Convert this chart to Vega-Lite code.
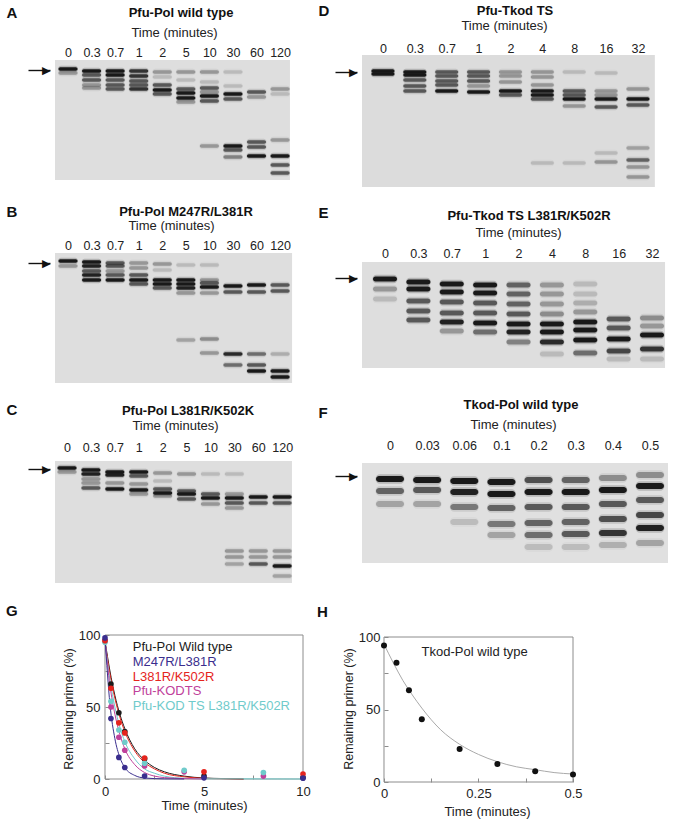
{
  "$schema": "https://vega.github.io/schema/vega-lite/v6.json",
  "padding": {"left": 6, "top": 3, "right": 0, "bottom": 0},
  "background": "white",
  "config": {
    "font": "Liberation Sans",
    "view": {"stroke": null},
    "axis": {"labelColor": "#222", "titleColor": "#222", "grid": false},
    "title": {"fontSize": 13, "fontWeight": "bold", "color": "#111"}
  },
  "datasets": {
    "gels": [
      {"g": "A", "x0": -0.552, "x1": 9.42, "y0": 0, "y1": 120},
      {"g": "B", "x0": -0.552, "x1": 9.51, "y0": 0, "y1": 130},
      {"g": "C", "x0": -0.502, "x1": 9.41, "y0": 0, "y1": 122},
      {"g": "D", "x0": -0.657, "x1": 8.53, "y0": 0, "y1": 132},
      {"g": "E", "x0": -0.689, "x1": 8.39, "y0": 0, "y1": 106},
      {"g": "F", "x0": -0.754, "x1": 7.485, "y0": 0, "y1": 100}
    ],
    "frames": [
      {"f": "G", "x0": 0, "x1": 10, "y0": 0, "y1": 100},
      {"f": "H", "x0": 0, "x1": 0.5, "y0": 0, "y1": 100}
    ],
    "bands": [
      {"g": "A", "l": 0, "p": 9, "k": 0.95}, {"g": "A", "l": 0, "p": 13, "k": 0.3},
      {"g": "A", "l": 1, "p": 11, "k": 0.95}, {"g": "A", "l": 1, "p": 15, "k": 0.6}, {"g": "A", "l": 1, "p": 20, "k": 0.6}, {"g": "A", "l": 1, "p": 25, "k": 0.3}, {"g": "A", "l": 1, "p": 28, "k": 0.3},
      {"g": "A", "l": 2, "p": 11, "k": 0.95}, {"g": "A", "l": 2, "p": 15, "k": 0.95}, {"g": "A", "l": 2, "p": 20, "k": 0.6}, {"g": "A", "l": 2, "p": 25, "k": 0.6}, {"g": "A", "l": 2, "p": 29, "k": 0.6},
      {"g": "A", "l": 3, "p": 11, "k": 0.8}, {"g": "A", "l": 3, "p": 16, "k": 0.8}, {"g": "A", "l": 3, "p": 21, "k": 0.6}, {"g": "A", "l": 3, "p": 25, "k": 0.6}, {"g": "A", "l": 3, "p": 29, "k": 0.8},
      {"g": "A", "l": 4, "p": 12, "k": 0.3}, {"g": "A", "l": 4, "p": 17, "k": 0.15}, {"g": "A", "l": 4, "p": 25, "k": 0.6}, {"g": "A", "l": 4, "p": 30, "k": 0.95}, {"g": "A", "l": 4, "p": 34, "k": 0.6},
      {"g": "A", "l": 5, "p": 12, "k": 0.3}, {"g": "A", "l": 5, "p": 20, "k": 0.15}, {"g": "A", "l": 5, "p": 29, "k": 0.6}, {"g": "A", "l": 5, "p": 33, "k": 0.95}, {"g": "A", "l": 5, "p": 38, "k": 0.95}, {"g": "A", "l": 5, "p": 42, "k": 0.3},
      {"g": "A", "l": 6, "p": 12, "k": 0.3}, {"g": "A", "l": 6, "p": 22, "k": 0.15}, {"g": "A", "l": 6, "p": 28, "k": 0.6}, {"g": "A", "l": 6, "p": 32, "k": 0.3}, {"g": "A", "l": 6, "p": 36, "k": 0.95}, {"g": "A", "l": 6, "p": 41, "k": 0.6}, {"g": "A", "l": 6, "p": 86, "k": 0.3},
      {"g": "A", "l": 7, "p": 12, "k": 0.15}, {"g": "A", "l": 7, "p": 26, "k": 0.15}, {"g": "A", "l": 7, "p": 34, "k": 0.95}, {"g": "A", "l": 7, "p": 39, "k": 0.6}, {"g": "A", "l": 7, "p": 86, "k": 0.95}, {"g": "A", "l": 7, "p": 90, "k": 0.6}, {"g": "A", "l": 7, "p": 97, "k": 0.4},
      {"g": "A", "l": 8, "p": 32, "k": 0.6}, {"g": "A", "l": 8, "p": 37, "k": 0.3}, {"g": "A", "l": 8, "p": 82, "k": 0.6}, {"g": "A", "l": 8, "p": 87, "k": 0.6}, {"g": "A", "l": 8, "p": 96, "k": 0.95},
      {"g": "A", "l": 9, "p": 29, "k": 0.3}, {"g": "A", "l": 9, "p": 34, "k": 0.15}, {"g": "A", "l": 9, "p": 80, "k": 0.3}, {"g": "A", "l": 9, "p": 96, "k": 0.95}, {"g": "A", "l": 9, "p": 105, "k": 0.6}, {"g": "A", "l": 9, "p": 113, "k": 0.6},

      {"g": "B", "l": 0, "p": 8, "k": 0.95}, {"g": "B", "l": 0, "p": 13, "k": 0.3},
      {"g": "B", "l": 1, "p": 9, "k": 0.95}, {"g": "B", "l": 1, "p": 13, "k": 0.9}, {"g": "B", "l": 1, "p": 18, "k": 0.6}, {"g": "B", "l": 1, "p": 22, "k": 0.9}, {"g": "B", "l": 1, "p": 27, "k": 0.95},
      {"g": "B", "l": 2, "p": 10, "k": 0.6}, {"g": "B", "l": 2, "p": 13, "k": 0.6}, {"g": "B", "l": 2, "p": 18, "k": 0.3}, {"g": "B", "l": 2, "p": 22, "k": 0.6}, {"g": "B", "l": 2, "p": 27, "k": 0.95},
      {"g": "B", "l": 3, "p": 10, "k": 0.3}, {"g": "B", "l": 3, "p": 15, "k": 0.3}, {"g": "B", "l": 3, "p": 22, "k": 0.6}, {"g": "B", "l": 3, "p": 27, "k": 0.95}, {"g": "B", "l": 3, "p": 31, "k": 0.6},
      {"g": "B", "l": 4, "p": 11, "k": 0.3}, {"g": "B", "l": 4, "p": 17, "k": 0.15}, {"g": "B", "l": 4, "p": 27, "k": 0.95}, {"g": "B", "l": 4, "p": 31, "k": 0.95}, {"g": "B", "l": 4, "p": 35, "k": 0.6},
      {"g": "B", "l": 5, "p": 12, "k": 0.15}, {"g": "B", "l": 5, "p": 27, "k": 0.95}, {"g": "B", "l": 5, "p": 31, "k": 0.95}, {"g": "B", "l": 5, "p": 35, "k": 0.9}, {"g": "B", "l": 5, "p": 40, "k": 0.3}, {"g": "B", "l": 5, "p": 87, "k": 0.25},
      {"g": "B", "l": 6, "p": 12, "k": 0.15}, {"g": "B", "l": 6, "p": 27, "k": 0.3}, {"g": "B", "l": 6, "p": 30, "k": 0.6}, {"g": "B", "l": 6, "p": 34, "k": 0.95}, {"g": "B", "l": 6, "p": 40, "k": 0.3}, {"g": "B", "l": 6, "p": 86, "k": 0.35}, {"g": "B", "l": 6, "p": 100, "k": 0.3},
      {"g": "B", "l": 7, "p": 33, "k": 0.95}, {"g": "B", "l": 7, "p": 39, "k": 0.6}, {"g": "B", "l": 7, "p": 101, "k": 0.85}, {"g": "B", "l": 7, "p": 112, "k": 0.5},
      {"g": "B", "l": 8, "p": 32, "k": 0.95}, {"g": "B", "l": 8, "p": 39, "k": 0.6}, {"g": "B", "l": 8, "p": 101, "k": 0.5}, {"g": "B", "l": 8, "p": 112, "k": 0.6}, {"g": "B", "l": 8, "p": 118, "k": 0.95},
      {"g": "B", "l": 9, "p": 32, "k": 0.6}, {"g": "B", "l": 9, "p": 38, "k": 0.6}, {"g": "B", "l": 9, "p": 101, "k": 0.2}, {"g": "B", "l": 9, "p": 118, "k": 0.95}, {"g": "B", "l": 9, "p": 124, "k": 0.95},

      {"g": "C", "l": 0, "p": 7, "k": 0.95}, {"g": "C", "l": 0, "p": 11, "k": 0.3},
      {"g": "C", "l": 1, "p": 9, "k": 0.95}, {"g": "C", "l": 1, "p": 13, "k": 0.9}, {"g": "C", "l": 1, "p": 18, "k": 0.3}, {"g": "C", "l": 1, "p": 22, "k": 0.3}, {"g": "C", "l": 1, "p": 27, "k": 0.6},
      {"g": "C", "l": 2, "p": 11, "k": 0.95}, {"g": "C", "l": 2, "p": 14, "k": 0.9}, {"g": "C", "l": 2, "p": 22, "k": 0.3}, {"g": "C", "l": 2, "p": 28, "k": 0.95},
      {"g": "C", "l": 3, "p": 11, "k": 0.95}, {"g": "C", "l": 3, "p": 15, "k": 0.6}, {"g": "C", "l": 3, "p": 23, "k": 0.3}, {"g": "C", "l": 3, "p": 29, "k": 0.95}, {"g": "C", "l": 3, "p": 33, "k": 0.3},
      {"g": "C", "l": 4, "p": 12, "k": 0.3}, {"g": "C", "l": 4, "p": 20, "k": 0.15}, {"g": "C", "l": 4, "p": 28, "k": 0.6}, {"g": "C", "l": 4, "p": 32, "k": 0.95}, {"g": "C", "l": 4, "p": 35, "k": 0.3},
      {"g": "C", "l": 5, "p": 13, "k": 0.3}, {"g": "C", "l": 5, "p": 30, "k": 0.6}, {"g": "C", "l": 5, "p": 33, "k": 0.95}, {"g": "C", "l": 5, "p": 38, "k": 0.6},
      {"g": "C", "l": 6, "p": 13, "k": 0.15}, {"g": "C", "l": 6, "p": 33, "k": 0.6}, {"g": "C", "l": 6, "p": 37, "k": 0.95}, {"g": "C", "l": 6, "p": 43, "k": 0.3},
      {"g": "C", "l": 7, "p": 13, "k": 0.15}, {"g": "C", "l": 7, "p": 33, "k": 0.3}, {"g": "C", "l": 7, "p": 37, "k": 0.95}, {"g": "C", "l": 7, "p": 42, "k": 0.6}, {"g": "C", "l": 7, "p": 47, "k": 0.3}, {"g": "C", "l": 7, "p": 90, "k": 0.3}, {"g": "C", "l": 7, "p": 96, "k": 0.3}, {"g": "C", "l": 7, "p": 103, "k": 0.25},
      {"g": "C", "l": 8, "p": 36, "k": 0.95}, {"g": "C", "l": 8, "p": 42, "k": 0.6}, {"g": "C", "l": 8, "p": 90, "k": 0.3}, {"g": "C", "l": 8, "p": 96, "k": 0.3}, {"g": "C", "l": 8, "p": 103, "k": 0.6},
      {"g": "C", "l": 9, "p": 36, "k": 0.95}, {"g": "C", "l": 9, "p": 42, "k": 0.6}, {"g": "C", "l": 9, "p": 90, "k": 0.3}, {"g": "C", "l": 9, "p": 96, "k": 0.3}, {"g": "C", "l": 9, "p": 105, "k": 0.95}, {"g": "C", "l": 9, "p": 115, "k": 0.25},

      {"g": "D", "l": 0, "p": 16, "k": 0.95}, {"g": "D", "l": 0, "p": 19, "k": 0.95},
      {"g": "D", "l": 1, "p": 17, "k": 0.95}, {"g": "D", "l": 1, "p": 20, "k": 0.95}, {"g": "D", "l": 1, "p": 25, "k": 0.6}, {"g": "D", "l": 1, "p": 31, "k": 0.6}, {"g": "D", "l": 1, "p": 36, "k": 0.6},
      {"g": "D", "l": 2, "p": 17, "k": 0.6}, {"g": "D", "l": 2, "p": 21, "k": 0.6}, {"g": "D", "l": 2, "p": 26, "k": 0.6}, {"g": "D", "l": 2, "p": 30, "k": 0.6}, {"g": "D", "l": 2, "p": 36, "k": 0.95},
      {"g": "D", "l": 3, "p": 17, "k": 0.6}, {"g": "D", "l": 3, "p": 21, "k": 0.6}, {"g": "D", "l": 3, "p": 26, "k": 0.6}, {"g": "D", "l": 3, "p": 31, "k": 0.3}, {"g": "D", "l": 3, "p": 37, "k": 0.95},
      {"g": "D", "l": 4, "p": 17, "k": 0.3}, {"g": "D", "l": 4, "p": 21, "k": 0.3}, {"g": "D", "l": 4, "p": 27, "k": 0.3}, {"g": "D", "l": 4, "p": 36, "k": 0.95}, {"g": "D", "l": 4, "p": 40, "k": 0.6},
      {"g": "D", "l": 5, "p": 17, "k": 0.3}, {"g": "D", "l": 5, "p": 22, "k": 0.3}, {"g": "D", "l": 5, "p": 30, "k": 0.3}, {"g": "D", "l": 5, "p": 36, "k": 0.95}, {"g": "D", "l": 5, "p": 40, "k": 0.95}, {"g": "D", "l": 5, "p": 44, "k": 0.6}, {"g": "D", "l": 5, "p": 108, "k": 0.15},
      {"g": "D", "l": 6, "p": 17, "k": 0.15}, {"g": "D", "l": 6, "p": 36, "k": 0.6}, {"g": "D", "l": 6, "p": 40, "k": 0.6}, {"g": "D", "l": 6, "p": 44, "k": 0.95}, {"g": "D", "l": 6, "p": 51, "k": 0.3}, {"g": "D", "l": 6, "p": 108, "k": 0.15},
      {"g": "D", "l": 7, "p": 18, "k": 0.15}, {"g": "D", "l": 7, "p": 36, "k": 0.3}, {"g": "D", "l": 7, "p": 40, "k": 0.3}, {"g": "D", "l": 7, "p": 44, "k": 0.95}, {"g": "D", "l": 7, "p": 52, "k": 0.6}, {"g": "D", "l": 7, "p": 98, "k": 0.15}, {"g": "D", "l": 7, "p": 107, "k": 0.3},
      {"g": "D", "l": 8, "p": 34, "k": 0.3}, {"g": "D", "l": 8, "p": 44, "k": 0.95}, {"g": "D", "l": 8, "p": 50, "k": 0.6}, {"g": "D", "l": 8, "p": 93, "k": 0.25}, {"g": "D", "l": 8, "p": 105, "k": 0.55}, {"g": "D", "l": 8, "p": 112, "k": 0.3}, {"g": "D", "l": 8, "p": 122, "k": 0.3},

      {"g": "E", "l": 0, "p": 17, "k": 0.95}, {"g": "E", "l": 0, "p": 27, "k": 0.3}, {"g": "E", "l": 0, "p": 37, "k": 0.15},
      {"g": "E", "l": 1, "p": 20, "k": 0.95}, {"g": "E", "l": 1, "p": 27, "k": 0.95}, {"g": "E", "l": 1, "p": 39, "k": 0.6}, {"g": "E", "l": 1, "p": 49, "k": 0.6}, {"g": "E", "l": 1, "p": 58, "k": 0.6},
      {"g": "E", "l": 2, "p": 22, "k": 0.95}, {"g": "E", "l": 2, "p": 30, "k": 0.95}, {"g": "E", "l": 2, "p": 40, "k": 0.6}, {"g": "E", "l": 2, "p": 51, "k": 0.6}, {"g": "E", "l": 2, "p": 60, "k": 0.9}, {"g": "E", "l": 2, "p": 69, "k": 0.3},
      {"g": "E", "l": 3, "p": 23, "k": 0.95}, {"g": "E", "l": 3, "p": 31, "k": 0.95}, {"g": "E", "l": 3, "p": 41, "k": 0.6}, {"g": "E", "l": 3, "p": 51, "k": 0.6}, {"g": "E", "l": 3, "p": 61, "k": 0.95}, {"g": "E", "l": 3, "p": 70, "k": 0.5},
      {"g": "E", "l": 4, "p": 23, "k": 0.55}, {"g": "E", "l": 4, "p": 32, "k": 0.55}, {"g": "E", "l": 4, "p": 42, "k": 0.55}, {"g": "E", "l": 4, "p": 52, "k": 0.6}, {"g": "E", "l": 4, "p": 62, "k": 0.95}, {"g": "E", "l": 4, "p": 70, "k": 0.9}, {"g": "E", "l": 4, "p": 80, "k": 0.4},
      {"g": "E", "l": 5, "p": 23, "k": 0.3}, {"g": "E", "l": 5, "p": 32, "k": 0.3}, {"g": "E", "l": 5, "p": 42, "k": 0.3}, {"g": "E", "l": 5, "p": 52, "k": 0.35}, {"g": "E", "l": 5, "p": 62, "k": 0.95}, {"g": "E", "l": 5, "p": 70, "k": 0.95}, {"g": "E", "l": 5, "p": 80, "k": 0.85}, {"g": "E", "l": 5, "p": 92, "k": 0.15},
      {"g": "E", "l": 6, "p": 22, "k": 0.15}, {"g": "E", "l": 6, "p": 32, "k": 0.15}, {"g": "E", "l": 6, "p": 41, "k": 0.2}, {"g": "E", "l": 6, "p": 50, "k": 0.3}, {"g": "E", "l": 6, "p": 60, "k": 0.95}, {"g": "E", "l": 6, "p": 68, "k": 0.95}, {"g": "E", "l": 6, "p": 78, "k": 0.95}, {"g": "E", "l": 6, "p": 91, "k": 0.5},
      {"g": "E", "l": 7, "p": 57, "k": 0.6}, {"g": "E", "l": 7, "p": 66, "k": 0.6}, {"g": "E", "l": 7, "p": 77, "k": 0.95}, {"g": "E", "l": 7, "p": 89, "k": 0.7}, {"g": "E", "l": 7, "p": 97, "k": 0.15},
      {"g": "E", "l": 8, "p": 56, "k": 0.35}, {"g": "E", "l": 8, "p": 64, "k": 0.3}, {"g": "E", "l": 8, "p": 73, "k": 0.95}, {"g": "E", "l": 8, "p": 87, "k": 0.8}, {"g": "E", "l": 8, "p": 97, "k": 0.15},

      {"g": "F", "l": 0, "p": 16, "k": 0.95}, {"g": "F", "l": 0, "p": 28, "k": 0.55}, {"g": "F", "l": 0, "p": 41, "k": 0.25},
      {"g": "F", "l": 1, "p": 17, "k": 0.95}, {"g": "F", "l": 1, "p": 27, "k": 0.6}, {"g": "F", "l": 1, "p": 41, "k": 0.25},
      {"g": "F", "l": 2, "p": 18, "k": 0.95}, {"g": "F", "l": 2, "p": 29, "k": 0.9}, {"g": "F", "l": 2, "p": 44, "k": 0.45}, {"g": "F", "l": 2, "p": 59, "k": 0.15},
      {"g": "F", "l": 3, "p": 19, "k": 0.95}, {"g": "F", "l": 3, "p": 31, "k": 0.95}, {"g": "F", "l": 3, "p": 45, "k": 0.55}, {"g": "F", "l": 3, "p": 61, "k": 0.45}, {"g": "F", "l": 3, "p": 72, "k": 0.25},
      {"g": "F", "l": 4, "p": 17, "k": 0.65}, {"g": "F", "l": 4, "p": 29, "k": 0.95}, {"g": "F", "l": 4, "p": 44, "k": 0.6}, {"g": "F", "l": 4, "p": 60, "k": 0.55}, {"g": "F", "l": 4, "p": 72, "k": 0.5}, {"g": "F", "l": 4, "p": 84, "k": 0.15},
      {"g": "F", "l": 5, "p": 17, "k": 0.55}, {"g": "F", "l": 5, "p": 29, "k": 0.95}, {"g": "F", "l": 5, "p": 44, "k": 0.6}, {"g": "F", "l": 5, "p": 59, "k": 0.55}, {"g": "F", "l": 5, "p": 71, "k": 0.6}, {"g": "F", "l": 5, "p": 84, "k": 0.15},
      {"g": "F", "l": 6, "p": 15, "k": 0.35}, {"g": "F", "l": 6, "p": 27, "k": 0.95}, {"g": "F", "l": 6, "p": 41, "k": 0.6}, {"g": "F", "l": 6, "p": 56, "k": 0.65}, {"g": "F", "l": 6, "p": 70, "k": 0.8}, {"g": "F", "l": 6, "p": 82, "k": 0.2},
      {"g": "F", "l": 7, "p": 12, "k": 0.35}, {"g": "F", "l": 7, "p": 23, "k": 0.95}, {"g": "F", "l": 7, "p": 37, "k": 0.6}, {"g": "F", "l": 7, "p": 52, "k": 0.7}, {"g": "F", "l": 7, "p": 65, "k": 0.9}, {"g": "F", "l": 7, "p": 80, "k": 0.25}
    ],
    "kin": [
      {"s": "wt", "t": 0, "v": 96}, {"s": "wt", "t": 0.3, "v": 66}, {"s": "wt", "t": 0.7, "v": 46}, {"s": "wt", "t": 1, "v": 33}, {"s": "wt", "t": 2, "v": 14}, {"s": "wt", "t": 5, "v": 2}, {"s": "wt", "t": 10, "v": 1},
      {"s": "kodts", "t": 0, "v": 96}, {"s": "kodts", "t": 0.3, "v": 50}, {"s": "kodts", "t": 0.7, "v": 29}, {"s": "kodts", "t": 1, "v": 20}, {"s": "kodts", "t": 2, "v": 9}, {"s": "kodts", "t": 4, "v": 5}, {"s": "kodts", "t": 8, "v": 2},
      {"s": "kodts2", "t": 0, "v": 95}, {"s": "kodts2", "t": 0.3, "v": 54}, {"s": "kodts2", "t": 0.7, "v": 34}, {"s": "kodts2", "t": 1, "v": 25.5}, {"s": "kodts2", "t": 2, "v": 11}, {"s": "kodts2", "t": 4, "v": 6}, {"s": "kodts2", "t": 8, "v": 4.5},
      {"s": "l381", "t": 0, "v": 96}, {"s": "l381", "t": 0.3, "v": 63}, {"s": "l381", "t": 0.7, "v": 39}, {"s": "l381", "t": 1, "v": 32}, {"s": "l381", "t": 2, "v": 14.5}, {"s": "l381", "t": 5, "v": 5}, {"s": "l381", "t": 10, "v": 3.5},
      {"s": "m247", "t": 0, "v": 98}, {"s": "m247", "t": 0.3, "v": 42}, {"s": "m247", "t": 0.7, "v": 15}, {"s": "m247", "t": 1, "v": 8}, {"s": "m247", "t": 2, "v": 2}, {"s": "m247", "t": 5, "v": 0.8}, {"s": "m247", "t": 10, "v": 0.6}
    ],
    "fit": [
      {"s": "wt", "t": 0, "v": 96}, {"s": "wt", "t": 0.25, "v": 75}, {"s": "wt", "t": 0.5, "v": 58}, {"s": "wt", "t": 0.75, "v": 45}, {"s": "wt", "t": 1, "v": 35}, {"s": "wt", "t": 1.5, "v": 21}, {"s": "wt", "t": 2, "v": 13}, {"s": "wt", "t": 2.5, "v": 8}, {"s": "wt", "t": 3, "v": 5}, {"s": "wt", "t": 4, "v": 2}, {"s": "wt", "t": 5, "v": 0.7}, {"s": "wt", "t": 6, "v": 0.3}, {"s": "wt", "t": 7, "v": 0},
      {"s": "l381", "t": 0, "v": 95}, {"s": "l381", "t": 0.25, "v": 73}, {"s": "l381", "t": 0.5, "v": 56}, {"s": "l381", "t": 0.75, "v": 43}, {"s": "l381", "t": 1, "v": 33}, {"s": "l381", "t": 1.5, "v": 19.5}, {"s": "l381", "t": 2, "v": 11.5}, {"s": "l381", "t": 2.5, "v": 7}, {"s": "l381", "t": 3, "v": 4}, {"s": "l381", "t": 4, "v": 1.5}, {"s": "l381", "t": 5, "v": 0.5}, {"s": "l381", "t": 6, "v": 0.2}, {"s": "l381", "t": 7, "v": 0},
      {"s": "kodts2", "t": 0, "v": 95}, {"s": "kodts2", "t": 0.25, "v": 69}, {"s": "kodts2", "t": 0.5, "v": 50}, {"s": "kodts2", "t": 0.75, "v": 36}, {"s": "kodts2", "t": 1, "v": 26}, {"s": "kodts2", "t": 1.5, "v": 14}, {"s": "kodts2", "t": 2, "v": 7}, {"s": "kodts2", "t": 2.5, "v": 4}, {"s": "kodts2", "t": 3, "v": 2}, {"s": "kodts2", "t": 4, "v": 0.5}, {"s": "kodts2", "t": 5, "v": 0.2}, {"s": "kodts2", "t": 10, "v": 0},
      {"s": "kodts", "t": 0, "v": 96}, {"s": "kodts", "t": 0.25, "v": 65}, {"s": "kodts", "t": 0.5, "v": 45}, {"s": "kodts", "t": 0.75, "v": 31}, {"s": "kodts", "t": 1, "v": 21}, {"s": "kodts", "t": 1.5, "v": 10}, {"s": "kodts", "t": 2, "v": 4.5}, {"s": "kodts", "t": 2.5, "v": 2}, {"s": "kodts", "t": 3, "v": 1}, {"s": "kodts", "t": 4, "v": 0.3}, {"s": "kodts", "t": 5, "v": 0},
      {"s": "m247", "t": 0, "v": 98}, {"s": "m247", "t": 0.25, "v": 52}, {"s": "m247", "t": 0.5, "v": 28}, {"s": "m247", "t": 0.75, "v": 15}, {"s": "m247", "t": 1, "v": 8}, {"s": "m247", "t": 1.5, "v": 2.5}, {"s": "m247", "t": 2, "v": 0.7}, {"s": "m247", "t": 3, "v": 0.1}, {"s": "m247", "t": 4, "v": 0}
    ],
    "lbl": [
      {"s": "wt", "t": 1.4, "v": 91.5, "txt": "Pfu-Pol Wild type"},
      {"s": "m247", "t": 1.4, "v": 81.5, "txt": "M247R/L381R"},
      {"s": "l381", "t": 1.4, "v": 71, "txt": "L381R/K502R"},
      {"s": "kodts", "t": 1.4, "v": 61, "txt": "Pfu-KODTS"},
      {"s": "kodts2", "t": 1.4, "v": 50.5, "txt": "Pfu-KOD TS L381R/K502R"}
    ],
    "tk": [
      {"t": 0, "v": 94.2}, {"t": 0.033, "v": 82.2}, {"t": 0.066, "v": 63.2}, {"t": 0.1, "v": 43.3},
      {"t": 0.2, "v": 22.7}, {"t": 0.3, "v": 12.5}, {"t": 0.4, "v": 7.4}, {"t": 0.5, "v": 5.1}
    ],
    "tkfit": [
      {"t": 0, "v": 95}, {"t": 0.025, "v": 82}, {"t": 0.05, "v": 70}, {"t": 0.075, "v": 60}, {"t": 0.1, "v": 51},
      {"t": 0.15, "v": 36}, {"t": 0.2, "v": 26}, {"t": 0.25, "v": 19}, {"t": 0.3, "v": 14}, {"t": 0.35, "v": 10.5},
      {"t": 0.4, "v": 8.5}, {"t": 0.45, "v": 6.5}, {"t": 0.5, "v": 5.5}
    ],
    "tklbl": [{"t": 0.24, "v": 90, "txt": "Tkod-Pol wild type"}]
  },
  "columns": 2,
  "spacing": 0,
  "bounds": "flush",
  "align": "each",
  "concat": [
    {
      "width": 307, "height": 198,
      "title": {"text": "Pfu-Pol wild type", "frame": "group", "dx": -27.5, "offset": -14.5},
      "encoding": {
        "x": {"field": "l", "type": "quantitative", "scale": {"domain": [-0.552, 12.478], "nice": false, "zero": false},
          "axis": {"orient": "top", "values": [0, 1, 2, 3, 4, 5, 6, 7, 8, 9], "labelExpr": "['0','0.3','0.7','1','2','5','10','30','60','120'][datum.value]", "title": "Time (minutes)", "titleX": 119, "domain": false, "ticks": false, "tickSize": 0, "labelPadding": -4.5, "titlePadding": 7.5, "labelFontSize": 12.5, "titleFontSize": 13, "titleFontWeight": "normal", "labelFlush": false, "labelOverlap": false}},
        "y": {"field": "p", "type": "quantitative", "scale": {"domain": [-5, 193], "reverse": true, "nice": false, "zero": false},
          "axis": {"orient": "left", "values": [10], "offset": 5, "domain": false, "tickSize": 22, "tickWidth": 1.4, "tickColor": "#111", "labelExpr": "'▶'", "labelFont": "DejaVu Sans", "labelAlign": "right", "labelBaseline": "middle", "labelPadding": -22, "labelFontSize": 11, "labelColor": "#111",
            "title": "A", "titleAngle": 0, "titleAlign": "left", "titleBaseline": "top", "titleX": -44, "titleY": -49.8, "titleFontSize": 15, "titleFontWeight": "bold", "titleColor": "#111"}}
      },
      "layer": [
        {"data": {"name": "gels"}, "transform": [{"filter": "datum.g == 'A'"}], "mark": {"type": "rect", "color": "#dedede"}, "encoding": {"x": {"field": "x0", "type": "quantitative"}, "x2": {"field": "x1"}, "y": {"field": "y0", "type": "quantitative"}, "y2": {"field": "y1"}}},
        {"data": {"name": "bands"}, "transform": [{"filter": "datum.g == 'A'"}], "mark": {"type": "tick", "orient": "horizontal", "thickness": 6.5, "size": 20, "color": "#111", "cornerRadius": 3}, "encoding": {"fillOpacity": {"field": "k", "type": "quantitative", "scale": {"domain": [0, 1], "range": [0, 0.3]}, "legend": null}}},
        {"data": {"name": "bands"}, "transform": [{"filter": "datum.g == 'A'"}], "mark": {"type": "tick", "orient": "horizontal", "thickness": 3.5, "size": 19, "color": "#111", "cornerRadius": 2}, "encoding": {"opacity": {"field": "k", "type": "quantitative", "scale": {"domain": [0, 1], "range": [0, 1]}, "legend": null}}}
      ]
    },
    {
      "width": 307, "height": 198,
      "title": {"text": "Pfu-Tkod TS", "frame": "group", "dx": -0.5, "offset": -14.5},
      "encoding": {
        "x": {"field": "l", "type": "quantitative", "scale": {"domain": [-0.657, 8.974], "nice": false, "zero": false},
          "axis": {"orient": "top", "values": [0, 1, 2, 3, 4, 5, 6, 7, 8], "labelExpr": "['0','0.3','0.7','1','2','4','8','16','32'][datum.value]", "title": "Time (minutes)", "titleX": 142, "domain": false, "ticks": false, "tickSize": 0, "labelPadding": -0.5, "titlePadding": 10.5, "labelFontSize": 12.5, "titleFontSize": 13, "titleFontWeight": "normal", "labelFlush": false, "labelOverlap": false}},
        "y": {"field": "p", "type": "quantitative", "scale": {"domain": [0, 198], "reverse": true, "nice": false, "zero": false},
          "axis": {"orient": "left", "values": [17], "offset": 5, "domain": false, "tickSize": 22, "tickWidth": 1.4, "tickColor": "#111", "labelExpr": "'▶'", "labelFont": "DejaVu Sans", "labelAlign": "right", "labelBaseline": "middle", "labelPadding": -22, "labelFontSize": 11, "labelColor": "#111",
            "title": "D", "titleAngle": 0, "titleAlign": "left", "titleBaseline": "top", "titleX": -39, "titleY": -51.8, "titleFontSize": 15, "titleFontWeight": "bold", "titleColor": "#111"}}
      },
      "layer": [
        {"data": {"name": "gels"}, "transform": [{"filter": "datum.g == 'D'"}], "mark": {"type": "rect", "color": "#dcdcdc"}, "encoding": {"x": {"field": "x0", "type": "quantitative"}, "x2": {"field": "x1"}, "y": {"field": "y0", "type": "quantitative"}, "y2": {"field": "y1"}}},
        {"data": {"name": "bands"}, "transform": [{"filter": "datum.g == 'D'"}], "mark": {"type": "tick", "orient": "horizontal", "thickness": 6.5, "size": 24, "color": "#111", "cornerRadius": 3}, "encoding": {"fillOpacity": {"field": "k", "type": "quantitative", "scale": {"domain": [0, 1], "range": [0, 0.3]}, "legend": null}}},
        {"data": {"name": "bands"}, "transform": [{"filter": "datum.g == 'D'"}], "mark": {"type": "tick", "orient": "horizontal", "thickness": 3.5, "size": 23, "color": "#111", "cornerRadius": 2}, "encoding": {"opacity": {"field": "k", "type": "quantitative", "scale": {"domain": [0, 1], "range": [0, 1]}, "legend": null}}}
      ]
    },
    {
      "width": 307, "height": 208,
      "title": {"text": "Pfu-Pol M247R/L381R", "frame": "group", "dx": -22.5, "offset": -14.5},
      "encoding": {
        "x": {"field": "l", "type": "quantitative", "scale": {"domain": [-0.552, 12.478], "nice": false, "zero": false},
          "axis": {"orient": "top", "values": [0, 1, 2, 3, 4, 5, 6, 7, 8, 9], "labelExpr": "['0','0.3','0.7','1','2','5','10','30','60','120'][datum.value]", "title": "Time (minutes)", "titleX": 116, "domain": false, "ticks": false, "tickSize": 0, "labelPadding": 0.5, "titlePadding": 7.5, "labelFontSize": 12.5, "titleFontSize": 13, "titleFontWeight": "normal", "labelFlush": false, "labelOverlap": false}},
        "y": {"field": "p", "type": "quantitative", "scale": {"domain": [0, 208], "reverse": true, "nice": false, "zero": false},
          "axis": {"orient": "left", "values": [10], "offset": 5, "domain": false, "tickSize": 22, "tickWidth": 1.4, "tickColor": "#111", "labelExpr": "'▶'", "labelFont": "DejaVu Sans", "labelAlign": "right", "labelBaseline": "middle", "labelPadding": -22, "labelFontSize": 11, "labelColor": "#111",
            "title": "B", "titleAngle": 0, "titleAlign": "left", "titleBaseline": "top", "titleX": -44, "titleY": -48.8, "titleFontSize": 15, "titleFontWeight": "bold", "titleColor": "#111"}}
      },
      "layer": [
        {"data": {"name": "gels"}, "transform": [{"filter": "datum.g == 'B'"}], "mark": {"type": "rect", "color": "#dedede"}, "encoding": {"x": {"field": "x0", "type": "quantitative"}, "x2": {"field": "x1"}, "y": {"field": "y0", "type": "quantitative"}, "y2": {"field": "y1"}}},
        {"data": {"name": "bands"}, "transform": [{"filter": "datum.g == 'B'"}], "mark": {"type": "tick", "orient": "horizontal", "thickness": 6.5, "size": 20, "color": "#111", "cornerRadius": 3}, "encoding": {"fillOpacity": {"field": "k", "type": "quantitative", "scale": {"domain": [0, 1], "range": [0, 0.3]}, "legend": null}}},
        {"data": {"name": "bands"}, "transform": [{"filter": "datum.g == 'B'"}], "mark": {"type": "tick", "orient": "horizontal", "thickness": 3.5, "size": 19, "color": "#111", "cornerRadius": 2}, "encoding": {"opacity": {"field": "k", "type": "quantitative", "scale": {"domain": [0, 1], "range": [0, 1]}, "legend": null}}}
      ]
    },
    {
      "width": 307, "height": 208,
      "title": {"text": "Pfu-Tkod TS L381R/K502R", "frame": "group", "dx": 13.5, "offset": -17.5},
      "encoding": {
        "x": {"field": "l", "type": "quantitative", "scale": {"domain": [-0.689, 8.509], "nice": false, "zero": false},
          "axis": {"orient": "top", "values": [0, 1, 2, 3, 4, 5, 6, 7, 8], "labelExpr": "['0','0.3','0.7','1','2','4','8','16','32'][datum.value]", "title": "Time (minutes)", "titleX": 156, "domain": false, "ticks": false, "tickSize": 0, "labelPadding": -7.5, "titlePadding": 8.5, "labelFontSize": 12.5, "titleFontSize": 13, "titleFontWeight": "normal", "labelFlush": false, "labelOverlap": false}},
        "y": {"field": "p", "type": "quantitative", "scale": {"domain": [-9, 199], "reverse": true, "nice": false, "zero": false},
          "axis": {"orient": "left", "values": [16], "offset": 5, "domain": false, "tickSize": 22, "tickWidth": 1.4, "tickColor": "#111", "labelExpr": "'▶'", "labelFont": "DejaVu Sans", "labelAlign": "right", "labelBaseline": "middle", "labelPadding": -22, "labelFontSize": 11, "labelColor": "#111",
            "title": "E", "titleAngle": 0, "titleAlign": "left", "titleBaseline": "top", "titleX": -39, "titleY": -47.8, "titleFontSize": 15, "titleFontWeight": "bold", "titleColor": "#111"}}
      },
      "layer": [
        {"data": {"name": "gels"}, "transform": [{"filter": "datum.g == 'E'"}], "mark": {"type": "rect", "color": "#dedede"}, "encoding": {"x": {"field": "x0", "type": "quantitative"}, "x2": {"field": "x1"}, "y": {"field": "y0", "type": "quantitative"}, "y2": {"field": "y1"}}},
        {"data": {"name": "bands"}, "transform": [{"filter": "datum.g == 'E'"}], "mark": {"type": "tick", "orient": "horizontal", "thickness": 8.5, "size": 25, "color": "#111", "cornerRadius": 4}, "encoding": {"fillOpacity": {"field": "k", "type": "quantitative", "scale": {"domain": [0, 1], "range": [0, 0.3]}, "legend": null}}},
        {"data": {"name": "bands"}, "transform": [{"filter": "datum.g == 'E'"}], "mark": {"type": "tick", "orient": "horizontal", "thickness": 5, "size": 24, "color": "#111", "cornerRadius": 2.5}, "encoding": {"opacity": {"field": "k", "type": "quantitative", "scale": {"domain": [0, 1], "range": [0, 1]}, "legend": null}}}
      ]
    },
    {
      "width": 307, "height": 174,
      "title": {"text": "Pfu-Pol L381R/K502K", "frame": "group", "dx": -20.5, "offset": -15.5},
      "encoding": {
        "x": {"field": "l", "type": "quantitative", "scale": {"domain": [-0.502, 12.34], "nice": false, "zero": false},
          "axis": {"orient": "top", "values": [0, 1, 2, 3, 4, 5, 6, 7, 8, 9], "labelExpr": "['0','0.3','0.7','1','2','5','10','30','60','120'][datum.value]", "title": "Time (minutes)", "titleX": 120, "domain": false, "ticks": false, "tickSize": 0, "labelPadding": 7, "titlePadding": 9, "labelFontSize": 12.5, "titleFontSize": 13, "titleFontWeight": "normal", "labelFlush": false, "labelOverlap": false}},
        "y": {"field": "p", "type": "quantitative", "scale": {"domain": [0, 174], "reverse": true, "nice": false, "zero": false},
          "axis": {"orient": "left", "values": [8], "offset": 5, "domain": false, "tickSize": 22, "tickWidth": 1.4, "tickColor": "#111", "labelExpr": "'▶'", "labelFont": "DejaVu Sans", "labelAlign": "right", "labelBaseline": "middle", "labelPadding": -22, "labelFontSize": 11, "labelColor": "#111",
            "title": "C", "titleAngle": 0, "titleAlign": "left", "titleBaseline": "top", "titleX": -44, "titleY": -58.8, "titleFontSize": 15, "titleFontWeight": "bold", "titleColor": "#111"}}
      },
      "layer": [
        {"data": {"name": "gels"}, "transform": [{"filter": "datum.g == 'C'"}], "mark": {"type": "rect", "color": "#dedede"}, "encoding": {"x": {"field": "x0", "type": "quantitative"}, "x2": {"field": "x1"}, "y": {"field": "y0", "type": "quantitative"}, "y2": {"field": "y1"}}},
        {"data": {"name": "bands"}, "transform": [{"filter": "datum.g == 'C'"}], "mark": {"type": "tick", "orient": "horizontal", "thickness": 6.5, "size": 20, "color": "#111", "cornerRadius": 3}, "encoding": {"fillOpacity": {"field": "k", "type": "quantitative", "scale": {"domain": [0, 1], "range": [0, 0.3]}, "legend": null}}},
        {"data": {"name": "bands"}, "transform": [{"filter": "datum.g == 'C'"}], "mark": {"type": "tick", "orient": "horizontal", "thickness": 3.5, "size": 19, "color": "#111", "cornerRadius": 2}, "encoding": {"opacity": {"field": "k", "type": "quantitative", "scale": {"domain": [0, 1], "range": [0, 1]}, "legend": null}}}
      ]
    },
    {
      "width": 307, "height": 174,
      "title": {"text": "Tkod-Pol wild type", "frame": "group", "dx": 5.5, "offset": -7},
      "encoding": {
        "x": {"field": "l", "type": "quantitative", "scale": {"domain": [-0.754, 7.512], "nice": false, "zero": false},
          "axis": {"orient": "top", "values": [0, 1, 2, 3, 4, 5, 6, 7], "labelExpr": "['0','0.03','0.06','0.1','0.2','0.3','0.4','0.5'][datum.value]", "title": "Time (minutes)", "titleX": 151, "domain": false, "ticks": false, "tickSize": 0, "labelPadding": 8.5, "titlePadding": 8.5, "labelFontSize": 12.5, "titleFontSize": 13, "titleFontWeight": "normal", "labelFlush": false, "labelOverlap": false}},
        "y": {"field": "p", "type": "quantitative", "scale": {"domain": [-2, 172], "reverse": true, "nice": false, "zero": false},
          "axis": {"orient": "left", "values": [13], "offset": 5, "domain": false, "tickSize": 22, "tickWidth": 1.4, "tickColor": "#111", "labelExpr": "'▶'", "labelFont": "DejaVu Sans", "labelAlign": "right", "labelBaseline": "middle", "labelPadding": -22, "labelFontSize": 11, "labelColor": "#111",
            "title": "F", "titleAngle": 0, "titleAlign": "left", "titleBaseline": "top", "titleX": -39, "titleY": -55.8, "titleFontSize": 15, "titleFontWeight": "bold", "titleColor": "#111"}}
      },
      "layer": [
        {"data": {"name": "gels"}, "transform": [{"filter": "datum.g == 'F'"}], "mark": {"type": "rect", "color": "#e0e0e0"}, "encoding": {"x": {"field": "x0", "type": "quantitative"}, "x2": {"field": "x1"}, "y": {"field": "y0", "type": "quantitative"}, "y2": {"field": "y1"}}},
        {"data": {"name": "bands"}, "transform": [{"filter": "datum.g == 'F'"}], "mark": {"type": "tick", "orient": "horizontal", "thickness": 9.5, "size": 29, "color": "#111", "cornerRadius": 4.5}, "encoding": {"fillOpacity": {"field": "k", "type": "quantitative", "scale": {"domain": [0, 1], "range": [0, 0.3]}, "legend": null}}},
        {"data": {"name": "bands"}, "transform": [{"filter": "datum.g == 'F'"}], "mark": {"type": "tick", "orient": "horizontal", "thickness": 6, "size": 28, "color": "#111", "cornerRadius": 3}, "encoding": {"opacity": {"field": "k", "type": "quantitative", "scale": {"domain": [0, 1], "range": [0, 1]}, "legend": null}}}
      ]
    },
    {
      "width": 248, "height": 147,
      "title": {"text": "G", "anchor": "start", "frame": "group", "dx": -49, "offset": 10, "fontSize": 15, "fontWeight": "bold"},
      "encoding": {
        "x": {"field": "t", "type": "quantitative", "scale": {"domain": [-2.525, 10], "nice": false, "zero": false},
          "axis": {"title": "Time (minutes)", "offset": -3, "values": [0, 2.5, 5, 7.5, 10], "labelExpr": "datum.value == 0 ? '0' : datum.value == 5 ? '5' : datum.value == 10 ? '10' : ''", "domain": false, "tickSize": -4, "tickColor": "#8c8c8c", "labelPadding": 10.5, "titlePadding": 1, "titleX": 149, "labelFontSize": 13, "titleFontSize": 13, "titleFontWeight": "normal", "labelFlush": false}},
        "y": {"field": "v", "type": "quantitative", "scale": {"domain": [-2.08, 100], "nice": false, "zero": false},
          "axis": {"title": "Remaining primer (%)", "offset": -50, "values": [0, 25, 50, 75, 100], "labelExpr": "datum.value % 50 == 0 ? datum.label : ''", "domain": false, "tickSize": -4, "tickColor": "#8c8c8c", "labelPadding": 9, "titlePadding": 2.5, "labelFontSize": 13, "titleFontSize": 12.5, "titleFontWeight": "normal", "labelFlush": false}},
        "color": {"field": "s", "type": "nominal", "scale": {"domain": ["wt", "m247", "l381", "kodts", "kodts2"], "range": ["#1a1a1a", "#3a2e8e", "#e5241d", "#c0419b", "#70cbcb"]}, "legend": null}
      },
      "layer": [
        {"data": {"name": "frames"}, "transform": [{"filter": "datum.f == 'G'"}], "mark": {"type": "rect", "fillOpacity": 0, "stroke": "#8c8c8c", "strokeWidth": 1}, "encoding": {"x": {"field": "x0", "type": "quantitative"}, "x2": {"field": "x1"}, "y": {"field": "y0", "type": "quantitative"}, "y2": {"field": "y1"}, "color": {"value": "#8c8c8c"}}},
        {"data": {"name": "fit"}, "mark": {"type": "line", "interpolate": "monotone", "strokeWidth": 1}, "encoding": {"detail": {"field": "s"}}},
        {"data": {"name": "kin"}, "mark": {"type": "circle", "size": 32, "opacity": 1}},
        {"data": {"name": "lbl"}, "mark": {"type": "text", "align": "left", "baseline": "middle", "fontSize": 13}, "encoding": {"text": {"field": "txt"}}}
      ]
    },
    {
      "width": 211, "height": 147,
      "title": {"text": "H", "anchor": "start", "frame": "group", "dx": -45, "offset": 11, "fontSize": 15, "fontWeight": "bold"},
      "encoding": {
        "x": {"field": "t", "type": "quantitative", "scale": {"domain": [-0.0582, 0.5], "nice": false, "zero": false},
          "axis": {"title": "Time (minutes)", "values": [0, 0.125, 0.25, 0.375, 0.5], "labelExpr": "datum.value == 0 ? '0' : datum.value == 0.25 ? '0.25' : datum.value == 0.5 ? '0.5' : ''", "domain": false, "tickSize": -4, "tickColor": "#8c8c8c", "labelPadding": 9.5, "titlePadding": 5, "titleX": 125, "labelFontSize": 13, "titleFontSize": 13, "titleFontWeight": "normal", "labelFlush": false}},
        "y": {"field": "v", "type": "quantitative", "scale": {"domain": [0, 101.38], "nice": false, "zero": false},
          "axis": {"title": "Remaining primer (%)", "offset": -22, "values": [0, 25, 50, 75, 100], "labelExpr": "datum.value % 50 == 0 ? datum.label : ''", "domain": false, "tickSize": -4, "tickColor": "#8c8c8c", "labelPadding": 8, "titlePadding": 3, "labelFontSize": 13, "titleFontSize": 12.5, "titleFontWeight": "normal", "labelFlush": false}}
      },
      "layer": [
        {"data": {"name": "frames"}, "transform": [{"filter": "datum.f == 'H'"}], "mark": {"type": "rect", "fillOpacity": 0, "stroke": "#8c8c8c", "strokeWidth": 1, "color": "#8c8c8c"}, "encoding": {"x": {"field": "x0", "type": "quantitative"}, "x2": {"field": "x1"}, "y": {"field": "y0", "type": "quantitative"}, "y2": {"field": "y1"}}},
        {"data": {"name": "tkfit"}, "mark": {"type": "line", "interpolate": "monotone", "strokeWidth": 1, "color": "#aaaaaa"}},
        {"data": {"name": "tk"}, "mark": {"type": "circle", "size": 36, "opacity": 1, "color": "#111"}},
        {"data": {"name": "tklbl"}, "mark": {"type": "text", "align": "center", "baseline": "middle", "fontSize": 13, "color": "#222"}, "encoding": {"text": {"field": "txt"}}}
      ]
    }
  ]
}
